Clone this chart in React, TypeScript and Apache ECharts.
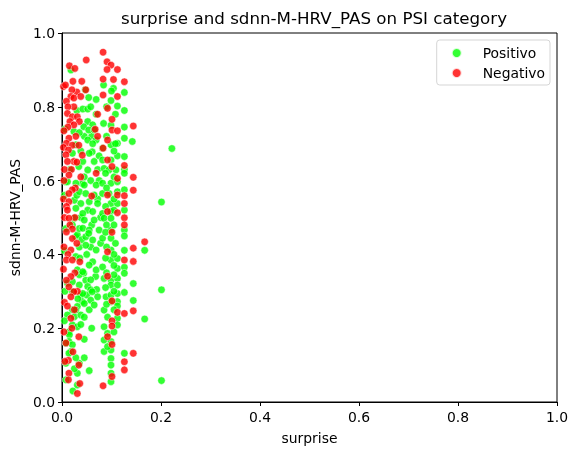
import { useEffect, useRef } from 'react';
import * as echarts from 'echarts';

// surprise / sdnn-M-HRV_PAS
const positivo: [number, number][] = [
  [0.018,0.900],[0.021,0.674],[0.028,0.697],[0.024,0.733],[0.034,0.638],[0.007,0.597],[0.041,0.592],[0.011,0.597],
  [0.028,0.593],[0.025,0.547],[0.038,0.538],[0.028,0.525],[0.025,0.498],[0.021,0.480],[0.028,0.448],[0.031,0.453],
  [0.028,0.394],[0.031,0.358],[0.044,0.349],[0.011,0.322],[0.021,0.326],[0.035,0.317],[0.021,0.299],[0.038,0.290],
  [0.041,0.272],[0.031,0.259],[0.021,0.250],[0.028,0.249],[0.011,0.236],[0.025,0.231],[0.038,0.236],[0.021,0.209],
  [0.031,0.204],[0.014,0.190],[0.015,0.182],[0.014,0.164],[0.008,0.159],[0.021,0.155],[0.018,0.137],[0.014,0.132],
  [0.008,0.105],[0.035,0.105],[0.031,0.078],[0.031,0.046],[0.006,0.740],[0.030,0.790],[0.016,0.630],[0.005,0.560],
  [0.030,0.560],[0.008,0.470],[0.005,0.410],[0.035,0.420],[0.006,0.300],[0.005,0.220],[0.008,0.060],[0.022,0.030],
  [0.035,0.570],[0.045,0.610],[0.058,0.600],[0.038,0.500],[0.052,0.520],[0.035,0.470],[0.060,0.480],[0.040,0.440],
  [0.058,0.420],[0.036,0.390],[0.050,0.400],[0.062,0.380],[0.048,0.330],[0.035,0.345],[0.068,0.340],[0.050,0.290],
  [0.032,0.280],[0.070,0.305],[0.055,0.250],[0.045,0.230],[0.038,0.210],[0.060,0.200],[0.045,0.170],[0.028,0.120],
  [0.025,0.090],[0.045,0.120],[0.038,0.680],[0.045,0.720],[0.035,0.730],[0.060,0.720],[0.072,0.630],[0.075,0.600],
  [0.072,0.550],[0.078,0.500],[0.078,0.430],
  [0.047,0.846],[0.054,0.825],[0.069,0.820],[0.042,0.794],[0.052,0.794],[0.058,0.800],[0.069,0.780],[0.052,0.760],
  [0.062,0.751],[0.044,0.746],[0.054,0.737],[0.065,0.737],[0.052,0.710],[0.069,0.710],[0.062,0.700],[0.061,0.678],
  [0.055,0.674],[0.075,0.667],[0.042,0.652],[0.065,0.652],[0.052,0.629],[0.045,0.588],[0.069,0.588],[0.048,0.565],
  [0.065,0.561],[0.055,0.543],[0.072,0.538],[0.042,0.511],[0.062,0.516],[0.045,0.493],[0.065,0.493],[0.042,0.471],
  [0.055,0.466],[0.075,0.466],[0.048,0.448],[0.054,0.457],[0.062,0.439],[0.048,0.425],[0.069,0.412],[0.055,0.371],
  [0.042,0.353],[0.069,0.358],[0.058,0.331],[0.052,0.313],[0.058,0.304],[0.061,0.299],[0.042,0.294],[0.072,0.285],
  [0.058,0.276],[0.045,0.267],[0.065,0.263],[0.055,0.085],
  [0.084,0.859],[0.104,0.850],[0.100,0.843],[0.099,0.817],[0.112,0.802],[0.084,0.755],[0.099,0.750],[0.112,0.701],
  [0.099,0.697],[0.082,0.688],[0.112,0.667],[0.082,0.656],[0.099,0.656],[0.085,0.633],[0.095,0.629],[0.109,0.629],
  [0.082,0.593],[0.099,0.593],[0.112,0.597],[0.082,0.565],[0.095,0.565],[0.112,0.570],[0.099,0.538],[0.112,0.538],
  [0.082,0.511],[0.099,0.516],[0.085,0.498],[0.099,0.498],[0.099,0.466],[0.082,0.444],[0.099,0.444],[0.099,0.412],
  [0.099,0.385],[0.112,0.389],[0.082,0.366],[0.112,0.362],[0.085,0.335],[0.099,0.331],[0.112,0.335],[0.099,0.317],
  [0.112,0.317],[0.089,0.285],[0.099,0.290],[0.112,0.294],[0.099,0.272],[0.112,0.272],[0.085,0.249],[0.112,0.260],
  [0.112,0.227],[0.085,0.204],[0.112,0.209],[0.092,0.186],[0.085,0.168],[0.099,0.164],[0.085,0.137],[0.099,0.141],
  [0.099,0.118],[0.099,0.100],[0.099,0.078],[0.099,0.055],
  [0.088,0.620],[0.105,0.610],[0.090,0.580],[0.105,0.550],[0.088,0.530],[0.105,0.520],[0.090,0.480],[0.105,0.480],
  [0.088,0.460],[0.108,0.430],[0.090,0.420],[0.105,0.400],[0.088,0.390],[0.105,0.370],[0.090,0.350],[0.105,0.345],
  [0.088,0.310],[0.105,0.300],[0.090,0.265],[0.105,0.250],[0.092,0.230],[0.105,0.190],[0.092,0.150],[0.108,0.700],
  [0.090,0.720],[0.105,0.680],[0.090,0.800],[0.108,0.780],
  [0.126,0.839],[0.126,0.790],[0.126,0.745],[0.126,0.715],[0.142,0.706],[0.222,0.687],[0.126,0.665],[0.126,0.630],
  [0.126,0.620],[0.126,0.575],[0.126,0.520],[0.201,0.542],[0.126,0.466],[0.126,0.450],[0.126,0.411],[0.167,0.411],
  [0.126,0.365],[0.126,0.349],[0.144,0.321],[0.201,0.304],[0.126,0.297],[0.144,0.275],[0.167,0.225],[0.126,0.132],
  [0.201,0.058],
];

const negativo: [number, number][] = [
  [0.015,0.911],[0.026,0.904],[0.049,0.927],[0.003,0.855],[0.007,0.859],[0.022,0.869],[0.040,0.869],[0.030,0.840],
  [0.020,0.846],[0.018,0.828],[0.024,0.824],[0.038,0.828],[0.009,0.815],[0.024,0.800],[0.012,0.800],[0.011,0.782],
  [0.021,0.773],[0.031,0.773],[0.016,0.760],[0.035,0.760],[0.024,0.751],[0.012,0.745],[0.004,0.735],[0.028,0.720],
  [0.014,0.715],[0.009,0.701],[0.021,0.696],[0.034,0.696],[0.003,0.690],[0.013,0.683],[0.041,0.669],[0.008,0.670],
  [0.024,0.652],[0.011,0.652],[0.030,0.650],[0.005,0.630],[0.019,0.630],[0.014,0.615],[0.038,0.610],[0.004,0.600],
  [0.027,0.580],[0.021,0.575],[0.014,0.565],[0.003,0.550],[0.014,0.543],[0.009,0.530],[0.011,0.520],[0.005,0.500],
  [0.026,0.500],[0.014,0.498],[0.016,0.480],[0.021,0.469],[0.009,0.461],[0.021,0.443],[0.030,0.430],[0.004,0.420],
  [0.018,0.412],[0.012,0.400],[0.009,0.385],[0.021,0.385],[0.036,0.380],[0.003,0.360],[0.026,0.350],[0.018,0.340],
  [0.009,0.330],[0.014,0.312],[0.031,0.300],[0.024,0.299],[0.018,0.285],[0.005,0.270],[0.011,0.260],[0.025,0.250],
  [0.018,0.227],[0.020,0.200],[0.004,0.190],[0.034,0.177],[0.008,0.160],[0.022,0.136],[0.013,0.113],[0.006,0.110],
  [0.034,0.100],[0.014,0.078],[0.013,0.060],[0.036,0.050],[0.031,0.023],
  [0.083,0.948],[0.091,0.922],[0.099,0.913],[0.112,0.901],[0.091,0.901],[0.083,0.875],[0.104,0.874],[0.126,0.868],
  [0.048,0.846],[0.083,0.832],[0.112,0.828],[0.092,0.796],[0.072,0.780],[0.101,0.766],[0.067,0.739],[0.101,0.737],
  [0.112,0.735],[0.144,0.748],[0.072,0.720],[0.092,0.710],[0.083,0.688],[0.092,0.656],[0.126,0.641],[0.101,0.638],
  [0.069,0.620],[0.112,0.606],[0.144,0.609],[0.144,0.574],[0.060,0.558],[0.092,0.561],[0.112,0.561],[0.126,0.559],
  [0.126,0.538],[0.092,0.516],[0.112,0.513],[0.126,0.499],[0.126,0.480],[0.101,0.460],[0.167,0.434],[0.144,0.417],
  [0.092,0.407],[0.126,0.385],[0.144,0.381],[0.092,0.341],[0.101,0.274],[0.112,0.243],[0.126,0.240],[0.144,0.247],
  [0.101,0.220],[0.101,0.206],[0.092,0.177],[0.101,0.156],[0.144,0.132],[0.126,0.109],[0.126,0.087],[0.101,0.069],
  [0.083,0.044],
];

const categories = ['Positivo', 'Negativo'];
const colors = ['#00ff00', '#ff0000'];

const FONT = 'DejaVu Sans';

export default function App() {
  const chartRef = useRef<HTMLDivElement>(null);

  useEffect(() => {
    if (!chartRef.current) return;
    const chart = echarts.init(chartRef.current, undefined, { renderer: 'svg' });

    const axisCommon = {
      type: 'value' as const,
      min: 0,
      max: 1,
      interval: 0.2,
      nameLocation: 'middle' as const,
      nameTextStyle: { color: '#000', fontSize: 13.9, fontFamily: FONT },
      axisLine: { show: true, onZero: false, lineStyle: { color: '#000', width: 1 } },
      axisTick: { show: true, length: 4, lineStyle: { color: '#000' } },
      axisLabel: { color: '#000', fontSize: 13.9, fontFamily: FONT, margin: 7, formatter: (v: number) => v.toFixed(1) },
      splitLine: { show: false },
    };

    chart.setOption({
      animation: false,
      title: {
        text: 'surprise and sdnn-M-HRV_PAS on PSI category',
        left: 309,
        textAlign: 'center',
        top: 4,
        textStyle: { color: '#000', fontSize: 16.7, fontWeight: 'normal', fontFamily: FONT },
      },
      legend: {
        data: categories,
        orient: 'vertical',
        right: 28,
        top: 40,
        icon: 'circle',
        itemWidth: 10,
        itemHeight: 10,
        itemGap: 6,
        padding: [6, 5, 5, 14],
        backgroundColor: 'rgba(255,255,255,0.8)',
        borderColor: '#d5d5d5',
        borderWidth: 1,
        borderRadius: 3,
        textStyle: { color: '#000', fontSize: 13.9, fontFamily: FONT, padding: [0, 0, 0, 16], lineHeight: 14 },
      },
      grid: {
        left: 61, right: 21, top: 33, bottom: 53,
        containLabel: false,
        show: true, borderColor: '#000', borderWidth: 1,
      },
      xAxis: { ...axisCommon, name: 'surprise', nameGap: 29, axisLabel: { ...axisCommon.axisLabel, margin: 8 } },
      yAxis: { ...axisCommon, name: 'sdnn-M-HRV_PAS', nameGap: 38, nameRotate: 90 },
      series: [positivo, negativo].map((d, i) => ({
        name: categories[i],
        type: 'scatter',
        data: d,
        symbolSize: 7.5,
        itemStyle: { color: colors[i], opacity: 0.8, borderColor: '#ffffff', borderWidth: 0.6 },
      })),
    });

    return () => { chart.dispose(); };
  }, []);

  return <div ref={chartRef} style={{ position: 'fixed', left: 0, top: 0, width: 578, height: 455 }} />;
}
